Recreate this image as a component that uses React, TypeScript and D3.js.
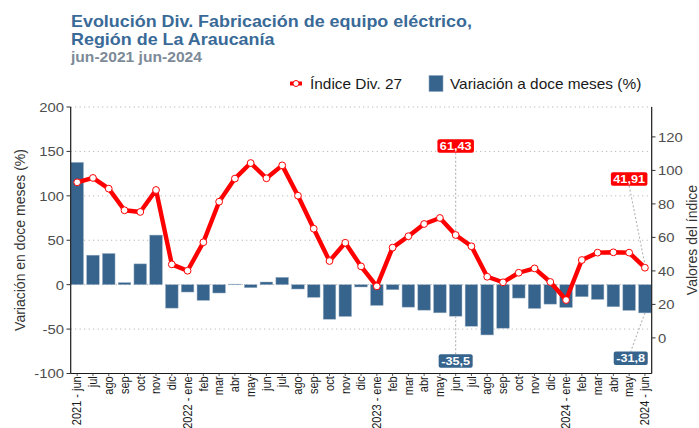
import React from "react";
import * as d3 from "d3";

const months = ["2021 - jun","jul","ago","sep","oct","nov","dic","2022 - ene","feb","mar","abr","may","jun","jul","ago","sep","oct","nov","dic","2023 - ene","feb","mar","abr","may","jun","jul","ago","sep","oct","nov","dic","2024 - ene","feb","mar","abr","may","2024 - jun"];
const variation = [137.7, 33.2, 35.1, 2.3, 23.4, 55.8, -26.4, -8.3, -17.7, -9.4, 0.6, -3.4, 3.0, 8.3, -4.9, -14.3, -38.9, -35.8, -2.6, -23.4, -5.7, -25.3, -28.7, -31.7, -35.5, -46.8, -56.6, -49.0, -15.1, -26.8, -21.9, -25.7, -13.6, -16.6, -24.9, -29.0, -31.8];
const indexValues = [92.9, 95.5, 89.1, 76.2, 75.2, 88.3, 43.9, 40.1, 57.1, 81.3, 95.1, 104.4, 95.3, 103.0, 84.9, 65.2, 45.9, 56.8, 42.7, 30.8, 53.9, 60.7, 68.0, 71.6, 61.43, 54.7, 36.5, 33.2, 38.9, 41.5, 33.4, 22.6, 46.5, 50.9, 51.1, 50.9, 41.91];
const leftTicks = [-100, -50, 0, 50, 100, 150, 200];
const rightTicks = [0, 20, 40, 60, 80, 100, 120];
// annotations: index of month, label y in axis units, x nudge in bands
const indexAnnotations = [{ i: 24, labelValue: 114.6, nudge: 0 }, { i: 36, labelValue: 94.9, nudge: -1 }];
const varAnnotations = [{ i: 24, labelValue: -86, nudge: 0 }, { i: 36, labelValue: -82.8, nudge: -0.9 }];

const FONT = "'Liberation Sans', Arial, Helvetica, sans-serif";
const SX = 1.1;
const RED = "#ff0000";
const BLUE = "#37648d";

const fmt = (v: number, d: number) => v.toFixed(d).replace(".", ",");

function T(props: any) {
  const { x, y, rotate, sx = SX, children, ...rest } = props;
  const tr = `translate(${x},${y}) scale(${sx},1)` + (rotate ? ` rotate(${rotate})` : "");
  return (
    <text transform={tr} fontFamily={FONT} {...rest}>
      {children}
    </text>
  );
}

export default function App() {
  const W = 699, H = 428;
  const top = 107, bottom = 373.5, left = 70.7, right = 651.7;
  const x = d3.scaleBand<number>().domain(d3.range(months.length)).range([69.3, 652.8]).paddingInner(0.2).paddingOuter(0.1);
  const cx = (i: number) => (x(i) as number) + x.bandwidth() / 2;
  const yL = d3.scaleLinear().domain([-100, 200]).range([bottom, top]);
  const yR = d3.scaleLinear().domain([-21.25, 137.85]).range([bottom, top]);
  const line = d3.line<number>().x((_, i) => cx(i)).y((d) => yR(d));
  const step = x.step();

  return (
    <svg width={W} height={H} style={{ position: "absolute", left: 0, top: 0, background: "#fff" }}>
      {/* titles */}
      <T x={71} y={27.3} fontSize={16.3} fontWeight="bold" fill="#3a6a97">Evolución Div. Fabricación de equipo eléctrico,</T>
      <T x={71} y={45} fontSize={16.3} fontWeight="bold" fill="#3a6a97">Región de La Araucanía</T>
      <T x={71} y={62.3} fontSize={14.2} fontWeight="bold" fill="#7d8a98">jun-2021 jun-2024</T>

      {/* legend */}
      <line x1={290} x2={302} y1={83.5} y2={83.5} stroke={RED} strokeWidth={4} />
      <circle cx={296} cy={83.5} r={3} fill="#fff" stroke={RED} strokeWidth={1} />
      <T x={310} y={88.5} fontSize={14} fill="#1a1a1a">Índice Div. 27</T>
      <rect x={429} y={75.5} width={14} height={16} fill={BLUE} stroke="#8ea6bd" strokeWidth={0.6} />
      <T x={450} y={88.5} fontSize={14} fill="#1a1a1a">Variación a doce meses (%)</T>

      {/* gridlines */}
      {leftTicks.map((t) => (
        <line key={"g" + t} x1={left} x2={right} y1={yL(t)} y2={yL(t)} stroke="#aaaaaa" strokeWidth={1} strokeDasharray="1 3.5" />
      ))}

      {/* bars */}
      {variation.map((v, i) => (
        <rect key={"b" + i} x={x(i)} width={x.bandwidth()} y={Math.min(yL(v), yL(0))} height={Math.abs(yL(v) - yL(0))}
          fill={BLUE} stroke="#9fb3c6" strokeWidth={0.5} />
      ))}

      {/* line */}
      <path d={line(indexValues) || ""} fill="none" stroke={RED} strokeWidth={4.4} strokeLinejoin="round" />
      {indexValues.map((v, i) => (
        <circle key={"p" + i} cx={cx(i)} cy={yR(v)} r={3.4} fill="#fff" stroke={RED} strokeWidth={1} />
      ))}

      {/* axes */}
      <line x1={left} x2={left} y1={top} y2={bottom} stroke="#1a1a1a" strokeWidth={1.2} />
      <line x1={right} x2={right} y1={top} y2={bottom} stroke="#1a1a1a" strokeWidth={1.2} />
      <line x1={left} x2={right} y1={bottom} y2={bottom} stroke="#1a1a1a" strokeWidth={1.2} />
      {leftTicks.map((t) => (
        <g key={"lt" + t}>
          <line x1={66.5} x2={left} y1={yL(t)} y2={yL(t)} stroke="#333" strokeWidth={1} />
          <T x={64} y={yL(t)} dy="0.36em" textAnchor="end" fontSize={13.5} fill="#4d4d4d">{t}</T>
        </g>
      ))}
      {rightTicks.map((t) => (
        <g key={"rt" + t}>
          <line x1={right} x2={655.5} y1={yR(t)} y2={yR(t)} stroke="#333" strokeWidth={1} />
          <T x={658} y={yR(t)} dy="0.36em" textAnchor="start" fontSize={13.5} fill="#4d4d4d">{t}</T>
        </g>
      ))}
      {months.map((m, i) => (
        <g key={"xt" + i}>
          <line x1={cx(i)} x2={cx(i)} y1={bottom} y2={bottom + 2.5} stroke="#333" strokeWidth={0.8} />
          <T x={cx(i)} y={376.3} rotate={-90} dy="0.35em" textAnchor="end" fontSize={11} fill="#1a1a1a">{m}</T>
        </g>
      ))}
      <T x={25} y={240} rotate={-90} textAnchor="middle" fontSize={14} sx={1} fill="#333">Variación en doce meses (%)</T>
      <T x={697} y={240} rotate={-90} textAnchor="middle" fontSize={14} sx={1} fill="#333">Valores del índice</T>

      {/* annotations */}
      {indexAnnotations.map((a) => {
        const px = cx(a.i), py = yR(indexValues[a.i]);
        const lx = px + a.nudge * step, ly = yR(a.labelValue);
        const label = fmt(indexValues[a.i], 2);
        const w = 36.5, h = 13.5;
        return (
          <g key={"ia" + a.i}>
            <line x1={lx} y1={ly + h / 2} x2={px} y2={py - 3} stroke="#b3b3b3" strokeWidth={1.1} strokeDasharray="2 2" />
            <rect x={lx - w / 2} y={ly - h / 2} width={w} height={h} rx={2} fill={RED} />
            <T x={lx} y={ly} dy="0.36em" textAnchor="middle" fontSize={11.5} fontWeight="bold" fill="#fff">{label}</T>
          </g>
        );
      })}
      {varAnnotations.map((a) => {
        const px = cx(a.i), py = yL(variation[a.i]);
        const lx = px + a.nudge * step, ly = yL(a.labelValue);
        const label = fmt(variation[a.i], 1);
        const w = 34, h = 13.5;
        return (
          <g key={"va" + a.i}>
            <line x1={px} y1={py} x2={lx} y2={ly - h / 2} stroke="#b3b3b3" strokeWidth={1.1} strokeDasharray="2 2" />
            <rect x={lx - w / 2} y={ly - h / 2} width={w} height={h} rx={2} fill={BLUE} />
            <T x={lx} y={ly} dy="0.36em" textAnchor="middle" fontSize={11.5} fontWeight="bold" fill="#fff">{label}</T>
          </g>
        );
      })}
    </svg>
  );
}
